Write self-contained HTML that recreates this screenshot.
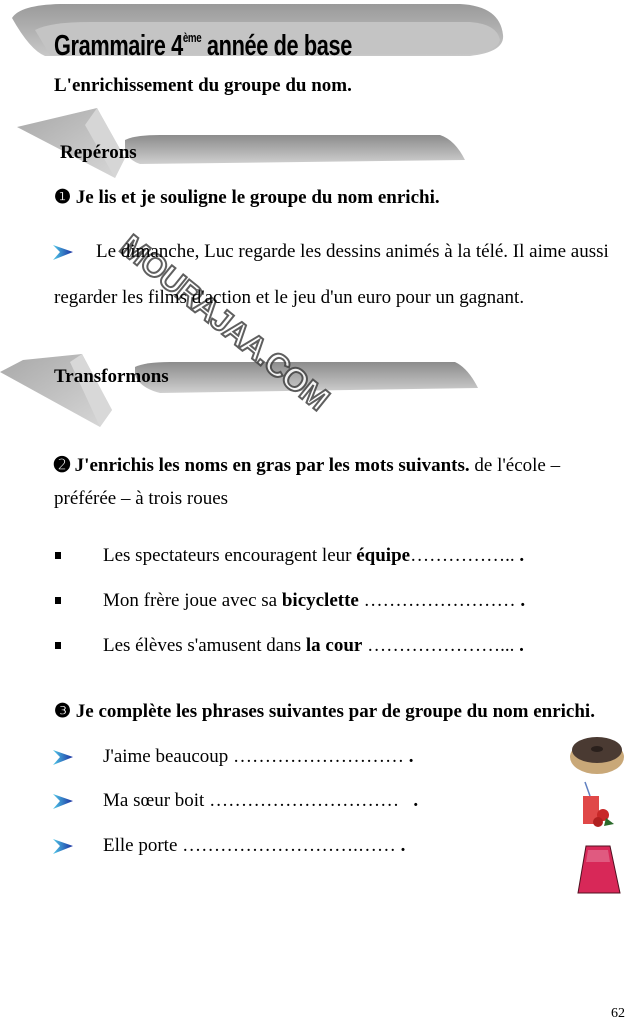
<!DOCTYPE html>
<html><head><meta charset="utf-8"><style>
html,body{margin:0;padding:0;background:#fff;}
body{width:630px;height:1020px;position:relative;overflow:hidden;font-family:"Liberation Serif",serif;font-size:19px;color:#000;}
.t{position:absolute;white-space:nowrap;line-height:22px;}
b{font-weight:bold;}
</style></head><body>
<svg width="630" height="1020" style="position:absolute;left:0;top:0">
<defs>
<linearGradient id="g1" x1="0" y1="0" x2="0" y2="1"><stop offset="0" stop-color="#9a9a9a"/><stop offset="1" stop-color="#c8c8c8"/></linearGradient>
<linearGradient id="g2" x1="0" y1="0" x2="0" y2="1"><stop offset="0" stop-color="#8c8c8c"/><stop offset="0.6" stop-color="#b4b4b4"/><stop offset="1" stop-color="#d0d0d0"/></linearGradient>
<linearGradient id="tri" x1="0" y1="0" x2="1" y2="1"><stop offset="0" stop-color="#a8a8a8"/><stop offset="1" stop-color="#d8d8d8"/></linearGradient>
<linearGradient id="arrg" x1="0" y1="0" x2="1" y2="0"><stop offset="0" stop-color="#4fc8e8"/><stop offset="1" stop-color="#1a2ea0"/></linearGradient>
</defs>
<path d="M12,18 Q20,5 60,4 L460,4 Q500,6 503,35 Q505,52 470,56 L45,56 Q30,50 12,18 Z" fill="url(#g1)"/>
<path d="M35,30 Q50,22 90,22 L470,22 Q497,24 500,40 Q497,52 470,54 L50,55 Z" fill="#c4c4c4"/>
<polygon points="17,127 97,108 125,158 115,178" fill="url(#tri)"/>
<polygon points="97,108 125,158 115,178 85,125" fill="#d6d6d6"/>
<path d="M125,140 Q135,135 160,135 L440,135 Q455,140 465,160 L140,164 Q128,160 125,150 Z" fill="url(#g2)"/>
<polygon points="0,372 23,360 82,354 112,410 100,427" fill="url(#tri)"/>
<polygon points="82,354 112,410 100,427 70,362" fill="#d8d8d8"/>
<path d="M135,367 Q145,362 170,362 L455,362 Q468,368 478,388 L160,393 Q140,388 135,375 Z" fill="url(#g2)"/>
<text x="0" y="0" transform="translate(118,250) rotate(39)" font-family="Liberation Sans, sans-serif" font-weight="bold" font-size="32" fill="#fff" stroke="#444" stroke-width="2" letter-spacing="-1" opacity="0.85">MOURAJAA.COM</text>
<polygon points="53,245 73,252 53,260 60,252" fill="url(#arrg)"/>
<polygon points="53,750 73,757 53,765 60,757" fill="url(#arrg)"/>
<polygon points="53,794 73,801 53,809 60,801" fill="url(#arrg)"/>
<polygon points="53,839 73,846 53,854 60,846" fill="url(#arrg)"/>
<rect x="55" y="552" width="6" height="7" fill="#000"/>
<rect x="55" y="597" width="6" height="7" fill="#000"/>
<rect x="55" y="642" width="6" height="7" fill="#000"/>
<ellipse cx="597" cy="757" rx="27" ry="17" fill="#c9a878"/>
<ellipse cx="597" cy="750" rx="25" ry="13" fill="#4a3a32"/>
<ellipse cx="597" cy="749" rx="6" ry="3" fill="#2a201c"/>
<rect x="583" y="796" width="16" height="28" fill="#e04848"/>
<line x1="590" y1="796" x2="585" y2="782" stroke="#6080c0" stroke-width="1.5"/>
<circle cx="603" cy="815" r="6" fill="#c82828"/>
<circle cx="598" cy="822" r="5" fill="#b02020"/>
<path d="M606,818 L614,824 L604,826 Z" fill="#2a6a2a"/>
<path d="M586,846 L610,846 L620,893 L578,893 Z" fill="#d82858" stroke="#501020" stroke-width="1"/>
<path d="M588,850 L608,850 L610,862 L586,862 Z" fill="#e05a80"/>
</svg>

<div class="t" style="left:54px;top:22px;font-family:'Liberation Sans Narrow','Liberation Sans',sans-serif;font-weight:bold;font-size:29px;line-height:32px;transform:scaleX(0.75);transform-origin:0 0;letter-spacing:-0.5px">Grammaire 4<sup style="font-size:13px;vertical-align:13px">ème</sup> année de base</div>
<div class="t" style="left:54px;top:75px"><b>L'enrichissement du groupe du nom.</b></div>
<div class="t" style="left:60px;top:142px"><b>Repérons</b></div>
<div class="t" style="left:54px;top:187px"><b>❶ Je lis et je souligne le groupe du nom enrichi.</b></div>
<div class="t" style="left:96px;top:241px">Le dimanche, Luc regarde les dessins animés à la télé. Il aime aussi</div>
<div class="t" style="left:54px;top:287px">regarder les films d'action et le jeu d'un euro pour un gagnant.</div>
<div class="t" style="left:54px;top:366px"><b>Transformons</b></div>
<div class="t" style="left:54px;top:455px"><b>➋ J'enrichis les noms en gras par les mots suivants.</b> de l'école –</div>
<div class="t" style="left:54px;top:488px">préférée – à trois roues</div>
<div class="t" style="left:103px;top:545px">Les spectateurs encouragent leur <b>équipe</b>…………….. <b>.</b></div>
<div class="t" style="left:103px;top:590px">Mon frère joue avec sa <b>bicyclette</b> …………………… <b>.</b></div>
<div class="t" style="left:103px;top:635px">Les élèves s'amusent dans <b>la cour</b> …………………... <b>.</b></div>
<div class="t" style="left:54px;top:701px"><b>❸ Je complète les phrases suivantes par de groupe du nom enrichi.</b></div>
<div class="t" style="left:103px;top:746px">J'aime beaucoup ……………………… <b>.</b></div>
<div class="t" style="left:103px;top:790px">Ma sœur boit …………………………&nbsp;&nbsp; <b>.</b></div>
<div class="t" style="left:103px;top:835px">Elle porte ……………………….…… <b>.</b></div>
<div class="t" style="left:611px;top:1003px;font-size:14px">62</div>
</body></html>
